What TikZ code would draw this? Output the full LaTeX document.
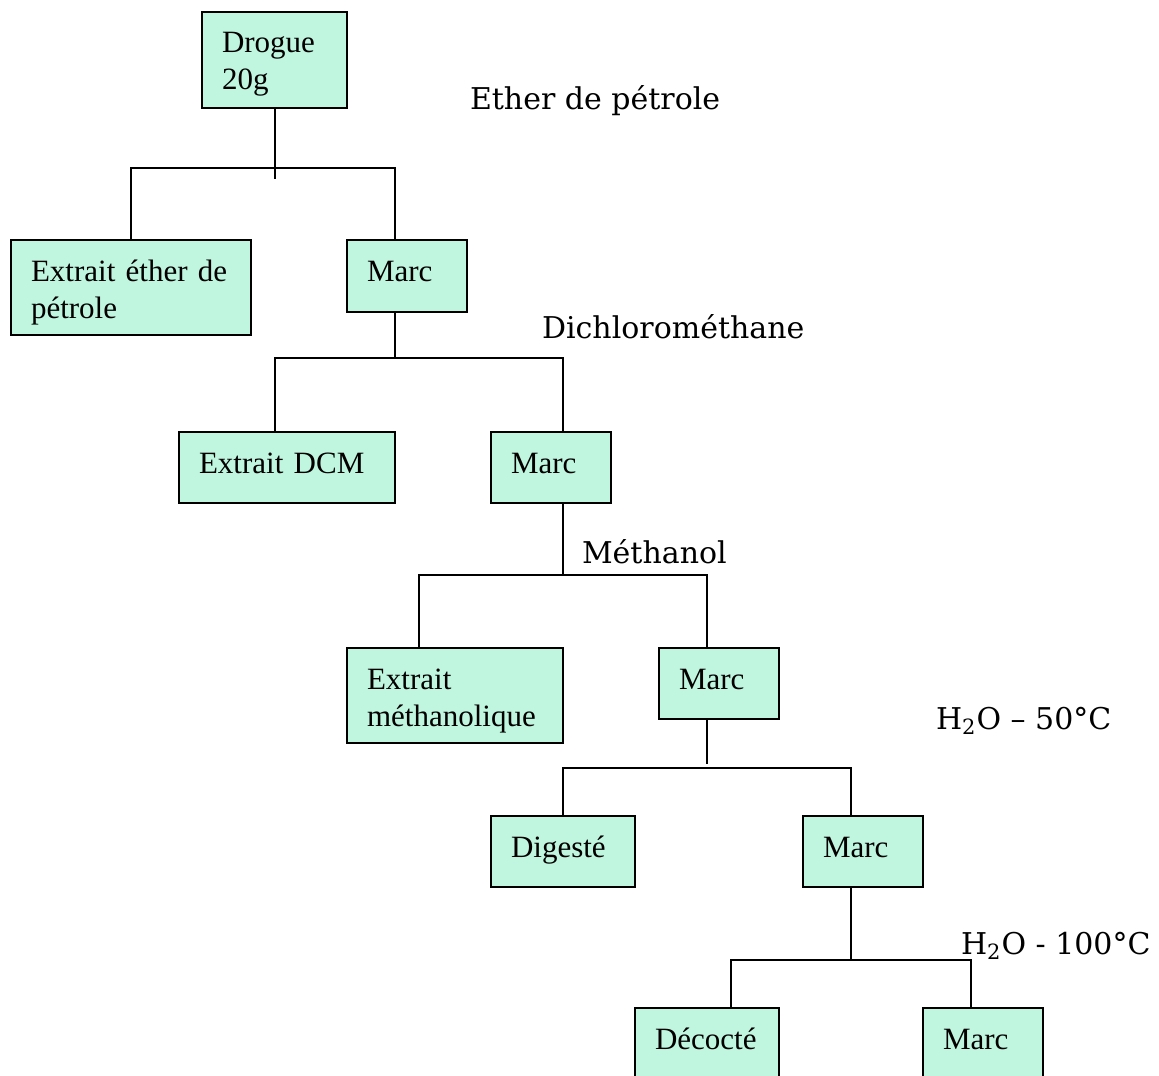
\documentclass[tikz,border=0pt]{standalone}
\usepackage{fontspec}
\setmainfont{Liberation Serif}
\newfontfamily\lblfont{DejaVu Serif}
\usetikzlibrary{calc,positioning}
\definecolor{boxgreen}{RGB}{192,246,224}
\tikzset{box/.style={draw, fill=boxgreen, line width=1pt, inner xsep=10pt, inner ysep=0pt, align=left, text height=20.5pt, font=\fontsize{15.5}{18.5}\selectfont}}
\tikzstyle{lbl}=[anchor=west, inner sep=0pt, font=\lblfont\fontsize{15}{17}\selectfont]

\begin{document}
\begin{tikzpicture}[x=0.5pt, y=-0.5pt, line width=1pt]
\useasboundingbox (0,0) rectangle (1159,1075);
\node[box, minimum width=72.5pt, minimum height=48pt, text depth=27.5pt, text width=52.5pt] (D) at (274.5,60) {Drogue\\20g};
\node[box, minimum width=120pt, minimum height=47.5pt, text depth=27pt, text width=100pt] (E1) at (131,287.5) {Extrait éther de\\pétrole};
\node[box, minimum width=60pt, minimum height=36pt, text depth=15.5pt, text width=40pt] (M1) at (407,276) {Marc};
\node[box, minimum width=108pt, minimum height=35.5pt, text depth=15pt, text width=88pt] (E2) at (287,467.5) {Extrait DCM};
\node[box, minimum width=60pt, minimum height=35.5pt, text depth=15pt, text width=40pt] (M2) at (551,467.5) {Marc};
\node[box, minimum width=108pt, minimum height=47.5pt, text depth=27pt, text width=88pt] (E3) at (455,695.5) {Extrait\\méthanolique};
\node[box, minimum width=60pt, minimum height=35.5pt, text depth=15pt, text width=40pt] (M3) at (719,683.5) {Marc};
\node[box, minimum width=72pt, minimum height=35.5pt, text depth=15pt, text width=52pt] (E4) at (563,851.5) {Digesté};
\node[box, minimum width=60pt, minimum height=35.5pt, text depth=15pt, text width=40pt] (M4) at (863,851.5) {Marc};
\node[box, minimum width=72pt, minimum height=36pt, text depth=15.5pt, text width=52pt] (E5) at (707,1044) {Décocté};
\node[box, minimum width=60pt, minimum height=36pt, text depth=15.5pt, text width=40pt] (M5) at (983,1044) {Marc};

% solvants
\node[lbl] (L1) at (469,101) {Ether de pétrole};
\node[lbl] (L2) at (541,327) {Dichlorométhane};
\node[lbl] (L3) at (581,552) {Méthanol};
\node[lbl] (L4) at (935,721) {H\textsubscript{2}O – 50°C};
\node[lbl] (L5) at (960,946) {H\textsubscript{2}O - 100°C};

% branches
\coordinate (b1a) at (131,168); \coordinate (b1b) at (395,168);
\coordinate (b2a) at (275,358); \coordinate (b2b) at (563,358);
\coordinate (b3a) at (419,575); \coordinate (b3b) at (707,575);
\coordinate (b4a) at (563,768); \coordinate (b4b) at (851,768);
\coordinate (b5a) at (731,960); \coordinate (b5b) at (971,960);

\draw (D.south) -- ++(0,70);
\draw (E1.north) -- (b1a) -- (b1b) -- (b1b |- M1.north);
\draw (b1b |- M1.south) -- (b2a -| b1b);
\draw (b2a |- E2.north) -- (b2a) -- (b2b) -- (b2b |- M2.north);
\draw (b2b |- M2.south) -- (b3a -| b2b);
\draw (b3a |- E3.north) -- (b3a) -- (b3b) -- (b3b |- M3.north);
\draw (b3b |- M3.south) -- ++(0,44);
\draw (E4.north) -- (b4a) -- (b4b) -- (b4b |- M4.north);
\draw (b4b |- M4.south) -- (b5a -| b4b);
\draw (b5a |- E5.north) -- (b5a) -- (b5b) -- (b5b |- M5.north);
\end{tikzpicture}
\end{document}
